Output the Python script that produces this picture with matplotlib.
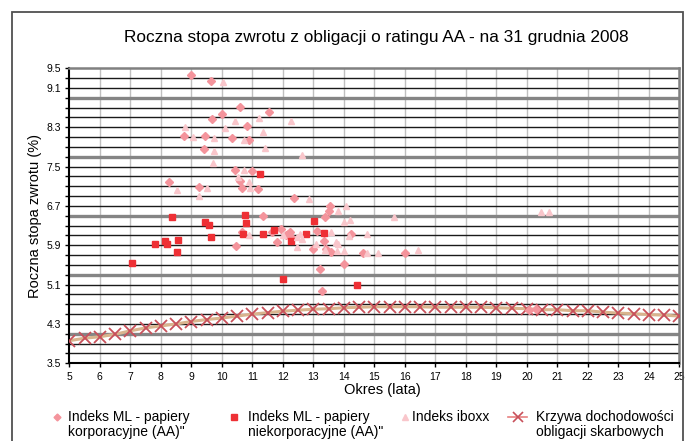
import numpy as np
import matplotlib
matplotlib.use("Agg")
import matplotlib.pyplot as plt
from matplotlib.lines import Line2D
from matplotlib.patches import Rectangle

plt.rcParams['font.family'] = ['Liberation Sans', 'DejaVu Sans']

# --- data ---
corp_x = [9.0, 9.66, 10.61, 11.55, 10.02, 9.67, 10.82, 8.76, 9.44, 10.34, 10.89, 9.43,
          10.44, 11.0, 8.26, 10.6, 9.26, 10.67, 11.2, 12.38, 13.55, 13.52, 11.36, 13.38,
          11.94, 11.64, 13.12, 10.65, 12.24, 12.16, 12.1, 12.29, 11.81, 14.25, 13.35,
          10.48, 12.98, 13.42, 13.58, 14.62, 16.0, 13.23, 14.01, 13.3, 20.06, 20.3]
corp_y = [9.37, 9.24, 8.71, 8.62, 8.58, 8.47, 8.33, 8.13, 8.12, 8.08, 8.04, 7.85,
          7.44, 7.42, 7.19, 7.20, 7.09, 7.07, 7.04, 6.86, 6.69, 6.59, 6.49, 6.47,
          6.23, 6.18, 6.20, 6.17, 6.17, 6.14, 6.11, 6.04, 5.97, 6.12, 5.98,
          5.88, 5.83, 5.82, 5.77, 5.75, 5.75, 5.42, 5.51, 4.98, 4.58, 4.60]

noncorp_x = [11.25, 10.76, 10.78, 13.02, 11.71, 10.7, 11.35, 12.76, 13.36, 12.26, 12.01,
             14.42, 8.36, 7.81, 8.13, 8.2, 8.56, 8.53, 7.05, 9.45, 9.58, 9.65]
noncorp_y = [7.36, 6.52, 6.35, 6.39, 6.21, 6.14, 6.12, 6.12, 6.15, 5.99, 5.22,
             5.10, 6.48, 5.93, 5.99, 5.93, 6.01, 5.77, 5.53, 6.38, 6.32, 6.06]

iboxx_x = [10.05, 10.42, 11.22, 8.79, 10.11, 11.35, 9.05, 9.73, 10.73, 9.75, 11.42, 9.72,
           10.74, 10.54, 10.89, 12.27, 12.63, 10.92, 12.86, 14.06, 13.81, 15.66, 14.0,
           14.21, 13.59, 10.9, 12.02, 12.56, 12.47, 12.63, 14.17, 14.75, 13.74, 13.81,
           13.1, 12.47, 13.37, 13.78, 14.0, 14.77, 15.12, 16.43, 20.47, 20.72, 8.53,
           9.53, 9.26]
iboxx_y = [9.22, 8.43, 8.49, 8.31, 8.29, 8.21, 8.10, 8.08, 8.05, 7.81, 7.88, 7.57,
           7.44, 7.28, 7.18, 8.42, 7.74, 7.07, 6.84, 6.69, 6.60, 6.47, 6.37,
           6.42, 6.18, 6.11, 6.10, 6.12, 6.06, 6.03, 6.08, 6.14, 5.97, 5.93,
           5.93, 5.87, 5.80, 5.79, 5.78, 5.75, 5.74, 5.81, 6.57, 6.57, 7.02,
           7.06, 6.90]

curve_x = [5.0, 5.5, 6.0, 6.5, 7.0, 7.5, 8.0, 8.5, 9.0, 9.5, 10.0, 10.5, 11.0, 11.5,
           12.0, 12.5, 13.0, 13.5, 14.0, 14.5, 15.0, 15.5, 16.0, 16.5, 17.0, 17.5,
           18.0, 18.5, 19.0, 19.5, 20.0, 20.5, 21.0, 21.5, 22.0, 22.5, 23.0, 23.5,
           24.0, 24.5, 25.0]
curve_y = [3.96, 4.01, 4.04, 4.09, 4.16, 4.22, 4.26, 4.30, 4.35, 4.39, 4.42, 4.46, 4.50,
           4.53, 4.56, 4.58, 4.60, 4.61, 4.63, 4.64, 4.65, 4.65, 4.65, 4.65, 4.64,
           4.64, 4.64, 4.64, 4.63, 4.62, 4.61, 4.59, 4.59, 4.57, 4.57, 4.54, 4.52,
           4.51, 4.49, 4.48, 4.46]

y_labels = [3.5, 4.3, 5.1, 5.9, 6.7, 7.5, 8.3, 9.1, 9.5]
x_ticks = list(range(5, 26))

c_corp = '#F4949C'
c_noncorp = '#EE3035'
c_iboxx = '#F9C6CB'
c_curve = '#D9B48E'
c_cross = '#C8505A'

fig = plt.figure(figsize=(6.97, 4.41), dpi=100)
ax = fig.add_axes([0.0994, 0.1762, 0.8752, 0.6689])

# gridlines: thin black every 0.2, thicker grey every 1.2 from 4.1
minor_y = np.round(np.arange(3.7, 9.45, 0.2), 1)
for v in minor_y:
    if round((v - 4.1) / 1.2, 3) % 1 == 0:
        ax.axhline(v, color='#858585', lw=2.4, zorder=1)
    else:
        ax.axhline(v, color='#1a1a1a', lw=1.0, zorder=1)
for v in x_ticks[1:-1]:
    ax.axvline(v, color='#c0c0c0', lw=1.0, zorder=0.5)

ax.plot(curve_x, curve_y, color=c_curve, lw=2.2, zorder=2)
ax.plot(curve_x, curve_y, ls='none', marker='x', ms=9, mew=1.3, color=c_cross, zorder=3)
ax.plot(corp_x, corp_y, ls='none', marker='D', ms=4, color=c_corp, mec=c_corp, zorder=4)
ax.plot(noncorp_x, noncorp_y, ls='none', marker='s', ms=4.3, color=c_noncorp, mec=c_noncorp, zorder=5)
ax.plot(iboxx_x, iboxx_y, ls='none', marker='^', ms=5, color=c_iboxx, mec=c_iboxx, zorder=6)

ax.set_xlim(5, 25)
ax.set_ylim(3.5, 9.5)
ax.set_xticks(x_ticks)
ax.set_xticklabels([str(v) for v in x_ticks], fontsize=7.5)
ax.set_yticks(y_labels)
ax.set_yticklabels([f'{v:.1f}' for v in y_labels], fontsize=7.5)
ax.set_yticks(np.round(np.arange(3.5, 9.55, 0.2), 1), minor=True)
ax.tick_params(axis='both', direction='out', length=3, width=1, color='black', pad=3)
ax.tick_params(axis='y', which='minor', direction='out', length=3, width=1)

for s in ['left', 'bottom']:
    ax.spines[s].set_color('black')
    ax.spines[s].set_linewidth(1.5)
for s in ['top', 'right']:
    ax.spines[s].set_color('#808080')
    ax.spines[s].set_linewidth(1.8)

fig.text(0.540, 0.914, 'Roczna stopa zwrotu z obligacji o ratingu AA - na 31 grudnia 2008',
         ha='center', va='center', fontsize=12.4)
fig.text(0.548, 0.116, 'Okres (lata)', ha='center', va='center', fontsize=10.5)
fig.text(0.050, 0.51, 'Roczna stopa zwrotu (%)', ha='center', va='center',
         rotation=90, fontsize=10.5)

# outer frame (bottom edge runs off the image)
top = 1 - 12 / 441
fig.patches.append(Rectangle((12 / 697, -0.05), (683 - 12) / 697, top + 0.05,
                             transform=fig.transFigure, fill=False, ec='#505050', lw=1.3))

# legend
ly1 = 1 - 416.7 / 441
ly2 = 1 - 431.7 / 441
lx = lambda px: px / 697
fig.add_artist(Line2D([lx(57)], [ly1], marker='D', ms=3.5, color=c_corp, ls='none'))
fig.add_artist(Line2D([lx(234)], [ly1], marker='s', ms=4, color=c_noncorp, ls='none'))
fig.add_artist(Line2D([lx(405)], [ly1], marker='^', ms=4.5, color=c_iboxx, ls='none'))
fig.add_artist(Line2D([lx(508), lx(527)], [ly1, ly1], color='#E88080', lw=1.2))
fig.add_artist(Line2D([lx(518)], [ly1], marker='x', ms=7, mew=1.2, color=c_cross, ls='none'))
for px, t1, t2 in [(68, 'Indeks ML - papiery', 'korporacyjne (AA)"'),
                   (248, 'Indeks ML - papiery', 'niekorporacyjne (AA)"'),
                   (412, 'Indeks iboxx', None),
                   (536, 'Krzywa dochodowości', 'obligacji skarbowych')]:
    fig.text(lx(px), ly1, t1, ha='left', va='center', fontsize=10)
    if t2:
        fig.text(lx(px), ly2, t2, ha='left', va='center', fontsize=10)

fig.savefig('out.png', dpi=100)
